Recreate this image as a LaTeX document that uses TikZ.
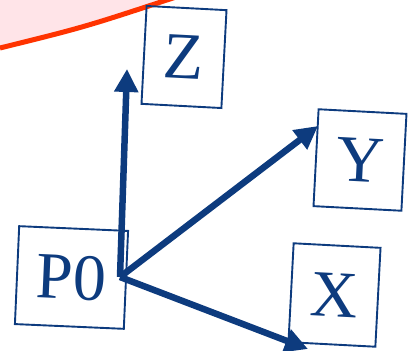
\documentclass[tikz,border=0pt]{standalone}
\usepackage{fontspec}
\setmainfont{Liberation Serif}
\usetikzlibrary{arrows.meta}
\definecolor{navy}{HTML}{0D3B7E}
\definecolor{redline}{HTML}{FF3300}
\definecolor{pinkfill}{HTML}{FFE4E8}
\tikzset{
  lbox/.style={draw=navy, line width=1.9pt, text=navy, inner sep=0pt,
    font=\fontsize{66pt}{66pt}\selectfont},
  axis/.style={draw=navy, line width=6.5pt,
    -{Triangle[length=23pt,width=23pt]}}
}
\begin{document}
\begin{tikzpicture}[x=1pt,y=-1pt]
\useasboundingbox (0,0) rectangle (413,351);
% pink region
\fill[pinkfill] (0,-5) -- (0,48) .. controls (85,27) .. (182,-5) -- cycle;
\draw[redline, line width=5pt] (0,48) .. controls (85,27) .. (182,-5);
% boxes
\node[lbox, minimum width=109pt, minimum height=98pt, rotate=-2.5] (p0) at (71.5,277.5) {P0};
\node[lbox, minimum width=80pt, minimum height=98pt, rotate=-3] (z) at (184,57) {Z};
\node[lbox, minimum width=88pt, minimum height=97pt, rotate=-3] (y) at (360,160) {Y};
\node[lbox, minimum width=87pt, minimum height=99pt, rotate=-3] (x) at (334.5,295) {X};
% arrow origin and tips
\coordinate (o) at (120,277);
\coordinate (zt) at (127,69);
\coordinate (yt) at (318,126);
\coordinate (xt) at (308,349);
\draw[axis] (o) -- (zt);
\draw[axis] (o) -- (yt);
\draw[axis] (o) -- (xt);
\end{tikzpicture}
\end{document}
